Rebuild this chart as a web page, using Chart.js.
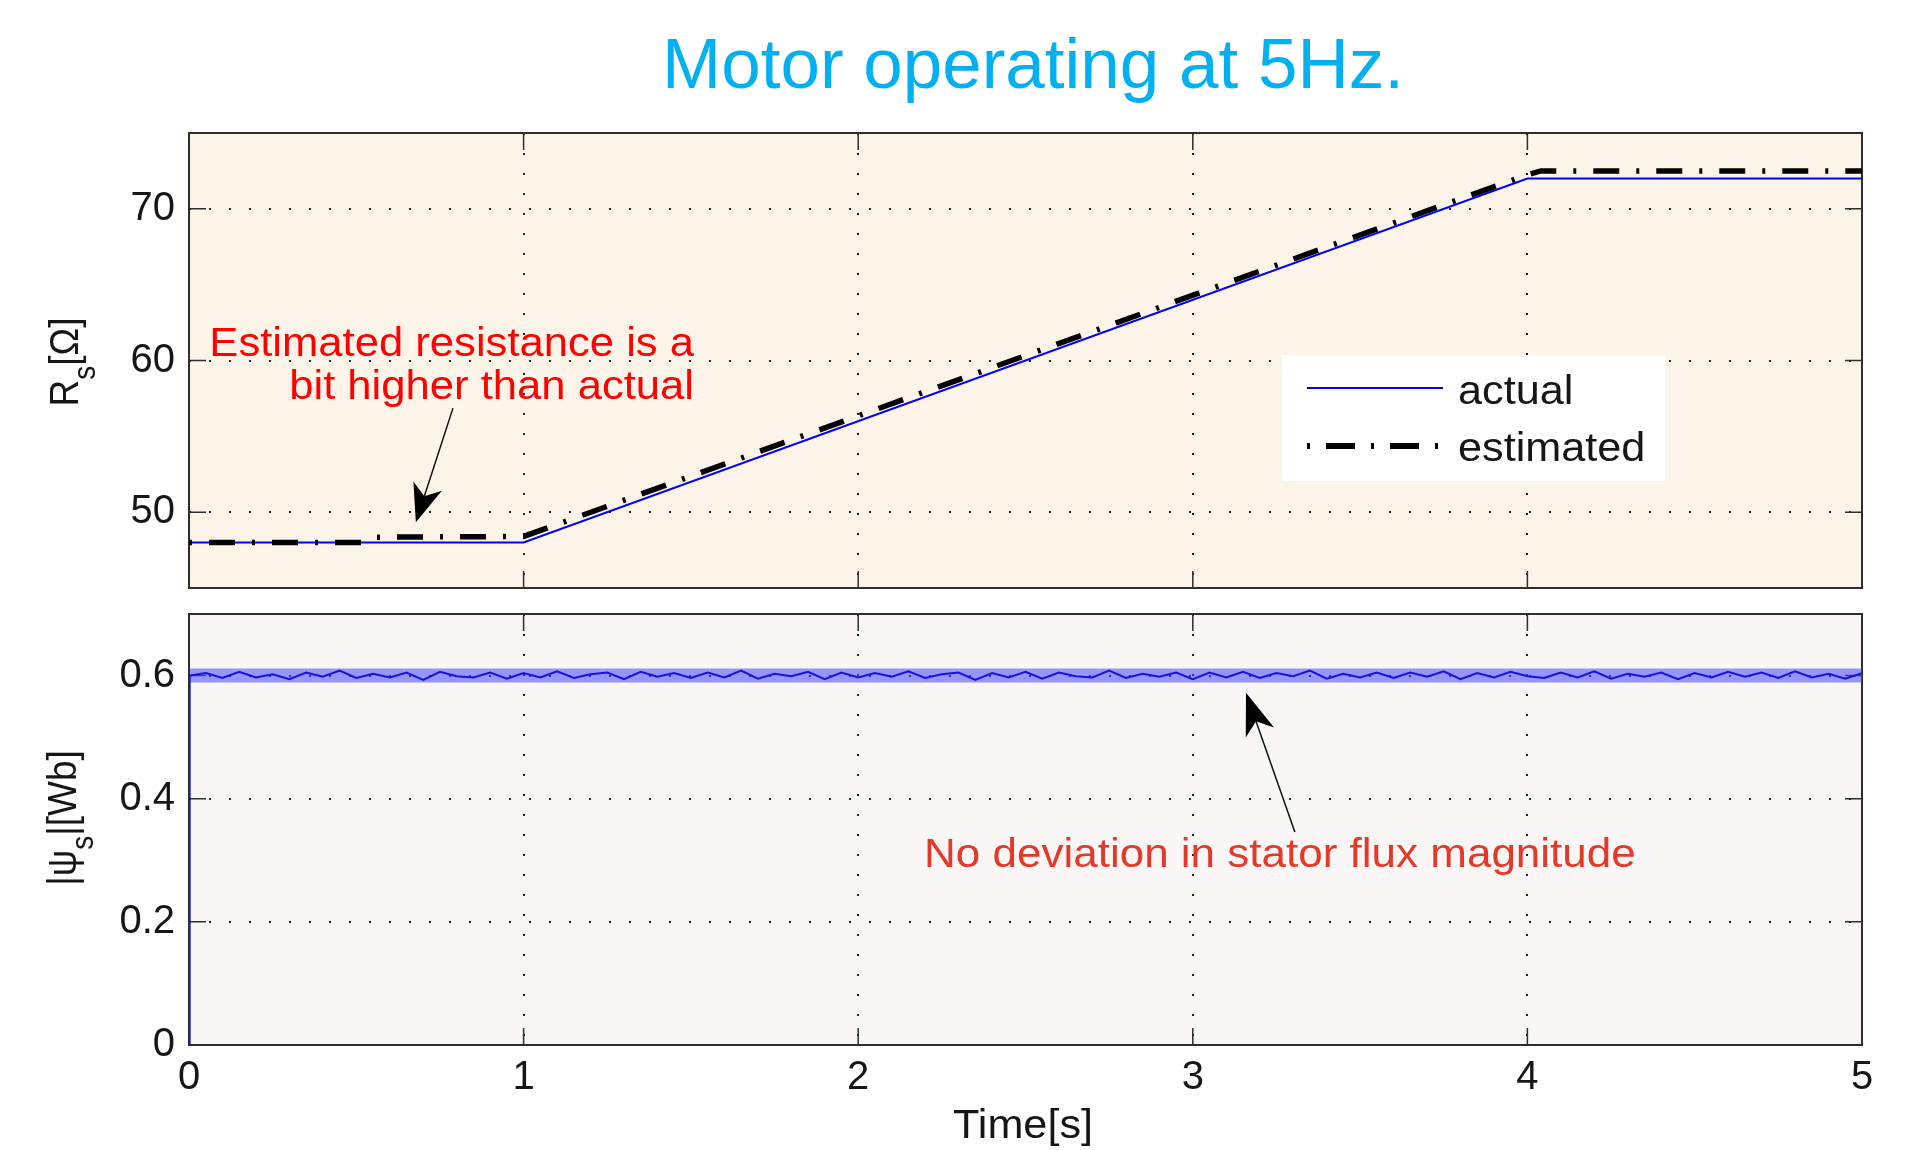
<!DOCTYPE html>
<html>
<head>
<meta charset="utf-8">
<script src="https://cdn.jsdelivr.net/npm/chart.js@4.4.1/dist/chart.umd.min.js"></script>
<style>
  html, body { margin: 0; padding: 0; background: #fff; }
  #wrap { position: relative; width: 1914px; height: 1150px; overflow: hidden; }
  canvas { position: absolute; left: 0; }
  #rsChart { top: 0; }
  #fluxChart { top: 600px; }
</style>
</head>
<body>
<div id="wrap">
  <canvas id="rsChart" width="1914" height="600"></canvas>
  <canvas id="fluxChart" width="1914" height="550"></canvas>
</div>
<script>
// ---- data ----
const timeTicks = [0, 1, 2, 3, 4, 5];
const rsTicks = [50, 60, 70];
const fluxTicks = [0, 0.2, 0.4, 0.6];

const actualT = [0, 1, 4, 5];
const actualRs = [48, 48, 72, 72];
const estT = [0, 0.52, 0.56, 1.0, 4.0, 4.04, 5.0];
const estRs = [48, 48, 48.35, 48.4, 72.25, 72.5, 72.5];

const fluxRiseT = [0, 0.002];
const fluxRise = [0, 0.6];
const fluxBandT = [0.002, 5];
const fluxBand = [0.6, 0.6];
const fluxStep = 0.05; // sample spacing of the flux trace [s]
const fluxNoise = [
  0.604, 0.596, 0.606, 0.597, 0.602, 0.594, 0.605, 0.598, 0.608, 0.596,
  0.603, 0.597, 0.605, 0.593, 0.606, 0.599, 0.597, 0.605, 0.595, 0.604,
  0.597, 0.607, 0.596, 0.602, 0.605, 0.594, 0.606, 0.598, 0.604, 0.596,
  0.605, 0.597, 0.608, 0.595, 0.603, 0.599, 0.606, 0.594, 0.605, 0.597,
  0.604, 0.598, 0.607, 0.596, 0.602, 0.605, 0.593, 0.604, 0.597, 0.606,
  0.595, 0.605, 0.599, 0.597, 0.608, 0.596, 0.603, 0.598, 0.605, 0.594,
  0.605, 0.597, 0.606, 0.596, 0.604, 0.599, 0.608, 0.595, 0.603, 0.597,
  0.605, 0.596, 0.605, 0.598, 0.607, 0.594, 0.604, 0.597, 0.606, 0.599,
  0.596, 0.605, 0.597, 0.607, 0.595, 0.603, 0.598, 0.605, 0.594, 0.604,
  0.597, 0.606, 0.598, 0.605, 0.596, 0.607, 0.597, 0.603, 0.595, 0.604
];

// ---- styling ----
const FONT = '"Liberation Sans", Arial, Helvetica, sans-serif';
const TEXT = '#161616';
const FRAME = '#2e2e2e';

function pts(xs, ys) { return xs.map((x, i) => ({ x, y: ys[i] })); }
const fluxPts = fluxNoise.map((v, i) => ({ x: (i + 1) * fluxStep, y: v }));

function stretchedText(ctx, text, x, y, size, color, align, sx) {
  ctx.save();
  ctx.font = size + 'px ' + FONT;
  ctx.fillStyle = color;
  ctx.textAlign = align;
  ctx.textBaseline = 'alphabetic';
  ctx.translate(x, y);
  ctx.scale(sx, 1);
  ctx.fillText(text, 0, 0);
  ctx.restore();
}

// rotated axis title, parts = [[text, isSub], ...]
function rotatedTitle(ctx, parts, baseX, cy, size) {
  const sub = Math.round(size * 0.76);
  ctx.save();
  ctx.fillStyle = TEXT;
  ctx.textBaseline = 'alphabetic';
  let total = 0;
  parts.forEach(([t, s]) => { ctx.font = (s ? sub : size) + 'px ' + FONT; total += ctx.measureText(t).width; });
  ctx.translate(baseX, cy);
  ctx.rotate(-Math.PI / 2);
  ctx.scale(1, 1.12);
  let x = -total / 2;
  parts.forEach(([t, s]) => {
    ctx.font = (s ? sub : size) + 'px ' + FONT;
    ctx.fillText(t, x, s ? size * 0.42 : 0);
    x += ctx.measureText(t).width;
  });
  ctx.restore();
}

function arrow(ctx, x1, y1, x2, y2, len, wid) {
  const a = Math.atan2(y2 - y1, x2 - x1);
  const ux = Math.cos(a), uy = Math.sin(a);
  const bx = x2 - ux * len, by = y2 - uy * len;
  const nx = x2 - ux * len * 0.72, ny = y2 - uy * len * 0.72;
  ctx.save();
  ctx.strokeStyle = '#111';
  ctx.lineWidth = 1.5;
  ctx.beginPath();
  ctx.moveTo(x1, y1);
  ctx.lineTo(nx, ny);
  ctx.stroke();
  ctx.fillStyle = '#000';
  ctx.beginPath();
  ctx.moveTo(x2, y2);
  ctx.lineTo(bx - uy * wid / 2, by + ux * wid / 2);
  ctx.lineTo(nx, ny);
  ctx.lineTo(bx + uy * wid / 2, by - ux * wid / 2);
  ctx.closePath();
  ctx.fill();
  ctx.restore();
}

// background, MATLAB style frame and inward ticks
const decor = {
  id: 'decor',
  beforeDraw(chart, args, opts) {
    const { ctx, chartArea: a } = chart;
    ctx.save();
    ctx.fillStyle = opts.bg;
    ctx.fillRect(a.left, a.top, a.right - a.left, a.bottom - a.top);
    ctx.restore();
  },
  beforeDatasetsDraw(chart) {
    const { ctx, chartArea: a, scales } = chart;
    ctx.save();
    ctx.strokeStyle = FRAME;
    ctx.lineWidth = 1.5;
    ctx.beginPath();
    scales.y.ticks.forEach(t => {
      const y = scales.y.getPixelForValue(t.value);
      if (y <= a.top + 1 || y >= a.bottom - 1) return;
      ctx.moveTo(a.left, y); ctx.lineTo(a.left + 17, y);
      ctx.moveTo(a.right, y); ctx.lineTo(a.right - 17, y);
    });
    scales.x.ticks.forEach(t => {
      const x = scales.x.getPixelForValue(t.value);
      if (x <= a.left + 1 || x >= a.right - 1) return;
      ctx.moveTo(x, a.top); ctx.lineTo(x, a.top + 17);
      ctx.moveTo(x, a.bottom); ctx.lineTo(x, a.bottom - 17);
    });
    ctx.stroke();
    ctx.lineWidth = 2;
    ctx.strokeRect(a.left, a.top, a.right - a.left, a.bottom - a.top);
    ctx.restore();
  }
};

const rsExtras = {
  id: 'rsExtras',
  afterDraw(chart) {
    const { ctx, scales: { x, y } } = chart;
    // title
    stretchedText(ctx, 'Motor operating at 5Hz.', 1033, 88, 71, '#00B0F0', 'center', 1);
    // y title
    rotatedTitle(ctx, [['R', false], ['s', true], ['[Ω]', false]], 78, 362, 37);
    // annotation
    stretchedText(ctx, 'Estimated resistance is a', 694, 356, 40, '#FF0000', 'right', 1.09);
    stretchedText(ctx, 'bit higher than actual', 694, 399, 40, '#FF0000', 'right', 1.09);
    arrow(ctx, x.getPixelForValue(0.789), y.getPixelForValue(56.86),
      x.getPixelForValue(0.678), y.getPixelForValue(49.34), 38, 30);
    // legend
    const ds = chart.data.datasets;
    ctx.save();
    ctx.fillStyle = '#ffffff';
    ctx.fillRect(1282, 355, 383, 126);
    ctx.strokeStyle = ds[1].borderColor;
    ctx.lineWidth = 2;
    ctx.beginPath(); ctx.moveTo(1307, 388); ctx.lineTo(1443, 388); ctx.stroke();
    ctx.strokeStyle = ds[0].borderColor;
    ctx.lineWidth = 6;
    ctx.setLineDash([3, 16, 29, 16]);
    ctx.beginPath(); ctx.moveTo(1307, 446); ctx.lineTo(1443, 446); ctx.stroke();
    ctx.restore();
    stretchedText(ctx, ds[1].label, 1458, 404, 40, TEXT, 'left', 1.08);
    stretchedText(ctx, ds[0].label, 1458, 461, 40, TEXT, 'left', 1.08);
  }
};

const fluxExtras = {
  id: 'fluxExtras',
  afterDraw(chart) {
    const { ctx, scales: { x, y } } = chart;
    rotatedTitle(ctx, [['|ψ', false], ['s', true], ['|[Wb]', false]], 76, 218, 37);
    stretchedText(ctx, 'Time[s]', 1023, 538, 40, TEXT, 'center', 1.08);
    stretchedText(ctx, 'No deviation in stator flux magnitude', 924, 267, 40, '#E3382A', 'left', 1.1);
    arrow(ctx, x.getPixelForValue(3.305), y.getPixelForValue(0.346),
      x.getPixelForValue(3.159), y.getPixelForValue(0.572), 42, 30);
  }
};

function xAxis(showLabels) {
  return {
    type: 'linear', min: 0, max: 5,
    afterBuildTicks: s => { s.ticks = timeTicks.map(v => ({ value: v })); },
    afterFit: s => { s.height = showLabels ? 105 : 0; s.paddingLeft = 0; s.paddingRight = 0; },
    grid: { color: '#1e1e1e', lineWidth: 2, drawTicks: false },
    border: { display: false, dash: [2, 18] },
    ticks: {
      display: showLabels, padding: 9, color: TEXT, maxRotation: 0,
      font: { family: FONT, size: 40 }, callback: v => String(v)
    }
  };
}

function yAxis(min, max, tickVals) {
  return {
    type: 'linear', min, max,
    afterBuildTicks: s => { s.ticks = tickVals.map(v => ({ value: v })); },
    afterFit: s => { s.width = 189; s.paddingTop = 0; s.paddingBottom = 0; },
    grid: { color: '#1e1e1e', lineWidth: 2, drawTicks: false },
    border: { display: false, dash: [2, 18] },
    ticks: { padding: 14, color: TEXT, font: { family: FONT, size: 40 }, callback: v => String(v) }
  };
}

const common = {
  responsive: false,
  animation: false,
  events: [],
  plugins: { legend: { display: false }, tooltip: { enabled: false } }
};

new Chart(document.getElementById('rsChart'), {
  type: 'line',
  data: {
    datasets: [
      {
        label: 'estimated', data: pts(estT, estRs), order: 0,
        borderColor: '#000000', borderWidth: 5.5, borderDash: [3, 17, 26, 17],
        pointRadius: 0, tension: 0, borderCapStyle: 'butt'
      },
      {
        label: 'actual', data: pts(actualT, actualRs), order: 1,
        borderColor: '#0000FF', borderWidth: 2, pointRadius: 0, tension: 0
      }
    ]
  },
  options: {
    ...common,
    layout: { padding: { top: 133, right: 52, bottom: 12, left: 0 } },
    plugins: { ...common.plugins, decor: { bg: '#FDF4E9' } },
    scales: { x: xAxis(false), y: yAxis(45, 75, rsTicks) }
  },
  plugins: [decor, rsExtras]
});

new Chart(document.getElementById('fluxChart'), {
  type: 'line',
  data: {
    datasets: [
      {
        label: 'flux trace', data: pts(fluxRiseT, fluxRise).concat(fluxPts), order: 0,
        borderColor: '#1414DC', borderWidth: 2, pointRadius: 0, tension: 0
      },
      {
        label: 'flux band', data: pts(fluxBandT, fluxBand), order: 1,
        borderColor: 'rgba(70,70,255,0.55)', borderWidth: 14, pointRadius: 0, tension: 0,
        borderCapStyle: 'butt'
      }
    ]
  },
  options: {
    ...common,
    layout: { padding: { top: 14, right: 52, bottom: 0, left: 0 } },
    plugins: { ...common.plugins, decor: { bg: '#F9F6F5' } },
    scales: { x: xAxis(true), y: yAxis(0, 0.7, fluxTicks) }
  },
  plugins: [decor, fluxExtras]
});
</script>
</body>
</html>
